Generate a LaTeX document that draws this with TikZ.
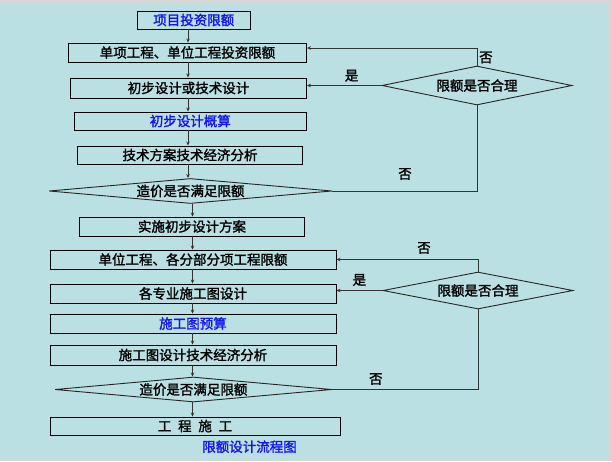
\documentclass[tikz,border=0pt]{standalone}
\usepackage{fontspec}
\usepackage{tikz}
\usetikzlibrary{shapes.geometric, arrows.meta}
\newfontfamily\cjk[FakeBold=1.6]{Noto Sans CJK SC}
\definecolor{bgteal}{RGB}{186,224,227}
\definecolor{bggray}{RGB}{214,214,214}
\definecolor{txtblue}{RGB}{20,20,240}
\tikzset{
  box/.style={draw=black, line width=0.9pt, minimum height=19pt, inner sep=0pt,
    font=\cjk\fontsize{13.5}{14}\selectfont},
  judge/.style={diamond, draw=black!85, line width=0.9pt, inner sep=0pt,
    font=\cjk\fontsize{13.5}{14}\selectfont},
  flow/.style={draw=black!80, line width=0.8pt},
  tag/.style={font=\cjk\fontsize{13.5}{14}\selectfont}
}

\begin{document}
\begin{tikzpicture}[x=1pt, y=-1pt, >={Stealth[length=4pt,width=3.5pt]}]
    % Background
    \fill[bggray] (0, 0) rectangle (612, 461);
    \fill[bgteal] (0, 3) rectangle (608, 459);
    \useasboundingbox (0, 0) rectangle (612, 461);
    \coordinate (colA) at (188, 0);
    \coordinate (colB) at (192.5, 0);

    % Main column
    \node[box, minimum width=112.5pt, minimum height=18pt, text=txtblue] (limit) at (193.75, 20) {项目投资限额};
    \node[box, minimum width=238pt] (single) at (187.5, 52.5) {单项工程、单位工程投资限额};
    \node[box, minimum width=236pt, minimum height=20pt] (prelim) at (188.5, 88) {初步设计或技术设计};
    \node[box, minimum width=232.6pt, minimum height=18pt, text=txtblue] (estimate) at (190.3, 121) {初步设计概算};
    \node[box, minimum width=225.7pt, minimum height=18pt] (techA) at (190, 155) {技术方案技术经济分析};
    \node[judge, aspect=11.32, minimum width=283pt, minimum height=25pt] (costA) at (190.5, 191) {造价是否满足限额};
    \node[box, minimum width=225.7pt] (plan) at (192, 226.5) {实施初步设计方案};
    \node[box, minimum width=286pt] (unit) at (193, 259.5) {单位工程、各分部分项工程限额};
    \node[box, minimum width=286pt] (drawing) at (193, 293.5) {各专业施工图设计};
    \node[box, minimum width=286pt, text=txtblue] (budget) at (193, 323.5) {施工图预算};
    \node[box, minimum width=286pt, minimum height=20pt] (techB) at (193, 355) {施工图设计技术经济分析};
    \node[judge, aspect=11.08, minimum width=277pt, minimum height=25pt] (costB) at (193.4, 389.5) {造价是否满足限额};
    \node[box, minimum width=290pt, minimum height=18pt] (build) at (195, 426) {工\hspace{0.5em}程\hspace{0.5em}施\hspace{0.5em}工};
    \node[tag, text=txtblue] (title) at (249.5, 446.7) {限额设计流程图};

    % Right side checks
    \node[judge, aspect=4.87, minimum width=190pt, minimum height=39pt] (checkA) at (477, 85.5) {限额是否合理};
    \node[judge, aspect=5.14, minimum width=190pt, minimum height=37pt] (checkB) at (478, 290.5) {限额是否合理};

    % Downward arrows
    \foreach \a/\b/\c in {limit/single/colA, single/prelim/colA, prelim/estimate/colA,
        estimate/techA/colA, techA/costA/colA, costA/plan/colB, plan/unit/colB,
        unit/drawing/colB, drawing/budget/colB, budget/techB/colB, techB/costB/colB,
        costB/build/colB} {
        \draw[flow, ->] (\a.south -| \c) -- (\b.north -| \c);
    }

    % Upper loop
    \draw[flow, ->] (checkA.north) |- ([yshift=4.5pt]single.east);
    \draw[flow, ->] (checkA.west) -- (checkA.west -| prelim.east);
    \draw[flow] (costA.east) -| (checkA.south);
    \node[tag] (noA) at (486, 57.5) {否};
    \node[tag] (yesA) at (351.6, 75.7) {是};
    \node[tag] (noB) at (405, 174) {否};

    % Lower loop
    \draw[flow, ->] (checkB.north) |- (unit.east);
    \draw[flow, ->] (checkB.west) -- (checkB.west -| drawing.east);
    \draw[flow] (costB.east) -| (checkB.south);
    \node[tag] (noC) at (424, 248) {否};
    \node[tag] (yesB) at (359.4, 280) {是};
    \node[tag] (noD) at (375.8, 379) {否};
\end{tikzpicture}
\end{document}
